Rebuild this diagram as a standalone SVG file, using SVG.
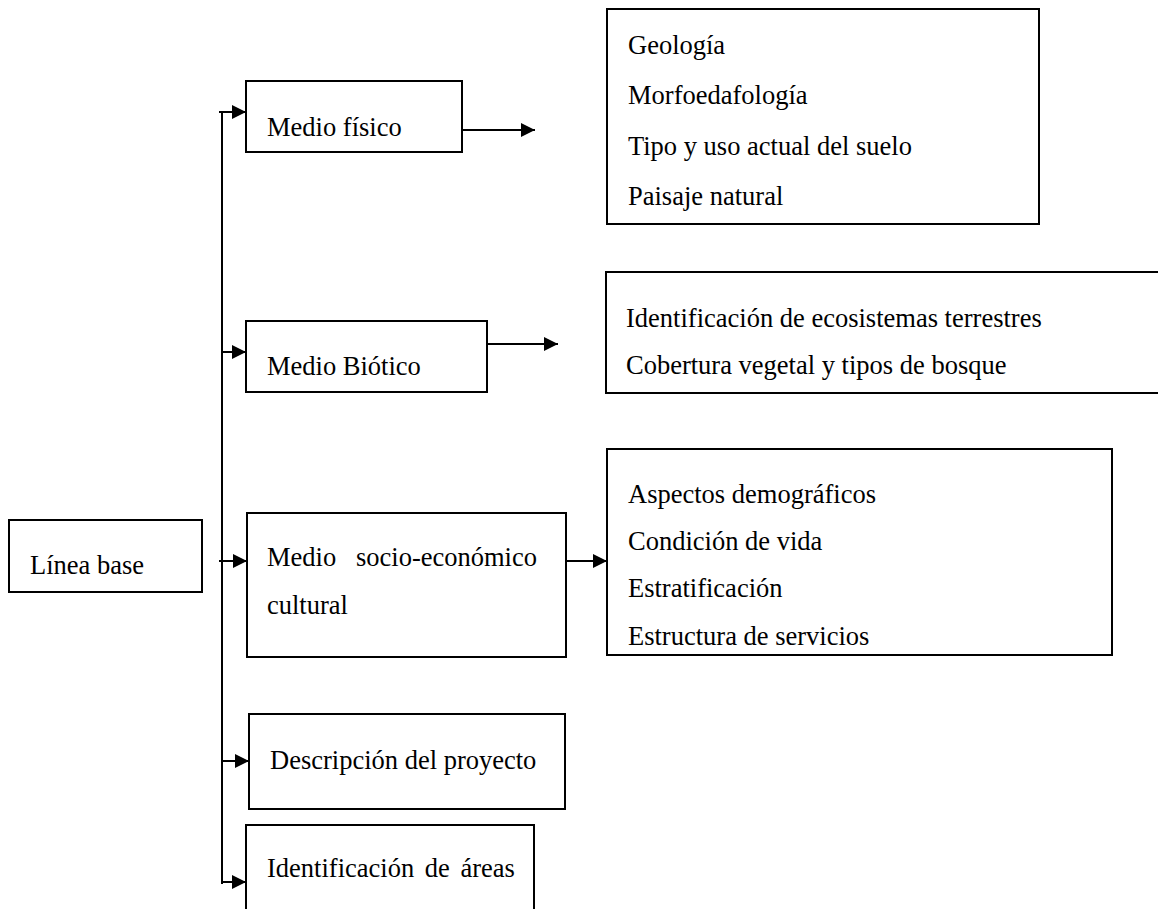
<svg xmlns="http://www.w3.org/2000/svg" width="1158" height="909" viewBox="0 0 1158 909">
  <style>
    .box { fill: #ffffff; stroke: #000000; stroke-width: 2; }
    .lbl { font-family: 'Liberation Serif', 'Times New Roman', Times, serif; font-size: 26.5px; fill: #000000; }
    .wire { fill: none; stroke: #000000; stroke-width: 2; }
  </style>
  <defs>
    <marker id="arrow" viewBox="0 0 10 10" refX="10" refY="5" markerWidth="17" markerHeight="14" markerUnits="userSpaceOnUse" orient="auto">
      <path d="M0,0 L10,5 L0,10 z" fill="#000000"/>
    </marker>
  </defs>
  <rect width="1158" height="909" fill="#ffffff"/>

  <!-- connectors -->
  <g id="connectors">
    <!-- trunk -->
    <path class="wire" d="M222,112 V884"/>
    <!-- branches from trunk -->
    <path class="wire" d="M219,112 H246" marker-end="url(#arrow)"/>
    <path class="wire" d="M222,352 H246" marker-end="url(#arrow)"/>
    <path class="wire" d="M219,561 H247" marker-end="url(#arrow)"/>
    <path class="wire" d="M222,761 H249" marker-end="url(#arrow)"/>
    <path class="wire" d="M222,882 H246" marker-end="url(#arrow)"/>
    <!-- outgoing arrows -->
    <path class="wire" d="M462,130 H535" marker-end="url(#arrow)"/>
    <path class="wire" d="M487,344 H558" marker-end="url(#arrow)"/>
    <path class="wire" d="M566,561 H607" marker-end="url(#arrow)"/>
  </g>

  <g id="linea-base">
    <rect class="box" x="9" y="520" width="193" height="72"/>
    <text class="lbl" x="30" y="574">Línea base</text>
  </g>

  <g id="medio-fisico">
    <rect class="box" x="246" y="81" width="216" height="71"/>
    <text class="lbl" x="267" y="136">Medio físico</text>
  </g>

  <g id="medio-fisico-items">
    <rect class="box" x="607" y="9" width="432" height="215"/>
    <text class="lbl" x="628" y="54">Geología</text>
    <text class="lbl" x="628" y="104">Morfoedafología</text>
    <text class="lbl" x="628" y="155">Tipo y uso actual del suelo</text>
    <text class="lbl" x="628" y="205">Paisaje natural</text>
  </g>

  <g id="medio-biotico">
    <rect class="box" x="246" y="321" width="241" height="71"/>
    <text class="lbl" x="267" y="375">Medio Biótico</text>
  </g>

  <g id="medio-biotico-items">
    <rect class="box" x="606" y="272" width="560" height="121"/>
    <text class="lbl" x="626" y="327">Identificación de ecosistemas terrestres</text>
    <text class="lbl" x="626" y="374">Cobertura vegetal y tipos de bosque</text>
  </g>

  <g id="medio-socio">
    <rect class="box" x="247" y="513" width="319" height="144"/>
    <text class="lbl" y="566"><tspan x="267">Medio</tspan><tspan x="537" text-anchor="end">socio-económico</tspan></text>
    <text class="lbl" x="267" y="614">cultural</text>
  </g>

  <g id="medio-socio-items">
    <rect class="box" x="607" y="449" width="505" height="206"/>
    <text class="lbl" x="628" y="503">Aspectos demográficos</text>
    <text class="lbl" x="628" y="550">Condición de vida</text>
    <text class="lbl" x="628" y="597">Estratificación</text>
    <text class="lbl" x="628" y="645">Estructura de servicios</text>
  </g>

  <g id="descripcion">
    <rect class="box" x="249" y="714" width="316" height="95"/>
    <text class="lbl" x="270" y="769">Descripción del proyecto</text>
  </g>

  <g id="identificacion">
    <rect class="box" x="246" y="825" width="288" height="100"/>
    <text class="lbl" x="267" y="877" word-spacing="4">Identificación de áreas</text>
  </g>
</svg>
